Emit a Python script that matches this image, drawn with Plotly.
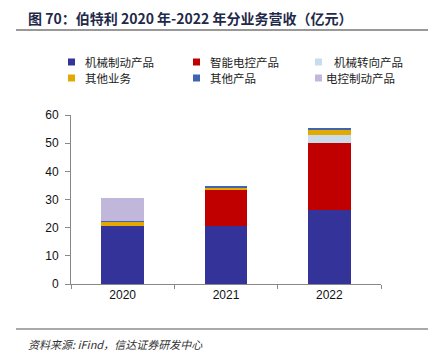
import plotly.graph_objects as go

years = ["2020", "2021", "2022"]
series_names = ["机械制动产品", "智能电控产品", "机械转向产品", "其他业务", "其他产品", "电控制动产品"]
mech_brake = [20.6, 20.6, 26.4]
smart_ctrl = [0.0, 13.1, 23.5]
mech_steer = [0.0, 0.0, 3.0]
other_biz = [1.5, 0.5, 1.8]
other_prod = [0.3, 0.5, 0.7]
elec_brake = [8.0, 0.0, 0.0]
series_values = [mech_brake, smart_ctrl, mech_steer, other_biz, other_prod, elec_brake]
colors = ["#333399", "#C00000", "#CADBEA", "#E2AA00", "#3E64B2", "#C0B7DA"]
y_ticks = [0, 10, 20, 30, 40, 50, 60]

W, H = 442, 357
L, R, T, B = 71, 61, 115, 73
pw = W - L - R
ph = H - T - B

def px(x):
    return (x - L) / pw

def py(y):
    return (H - B - y) / ph

fig = go.Figure()
for name, vals, col in zip(series_names, series_values, colors):
    fig.add_trace(go.Bar(x=years, y=vals, name=name, showlegend=False,
                         marker=dict(color=col, line=dict(width=0))))

cjk = "Noto Sans CJK SC"
fig.update_layout(
    width=W, height=H,
    barmode="stack", bargap=0.59,
    paper_bgcolor="white", plot_bgcolor="white",
    margin=dict(l=L, r=R, t=T, b=B, autoexpand=False),
    showlegend=False,
    xaxis=dict(type="category", showline=True, linecolor="#888", linewidth=1,
               ticks="outside", tickson="boundaries", ticklen=4, tickcolor="#888",
               tickfont=dict(family="Liberation Sans, Arial", size=12, color="#111"),
               showgrid=False),
    yaxis=dict(range=[0, 60], tickvals=y_ticks, showline=True, linecolor="#888", linewidth=1,
               ticks="outside", ticklen=5, tickcolor="#888", showgrid=False, zeroline=False,
               tickfont=dict(family="Liberation Sans, Arial", size=12, color="#111"),
               ticklabelstandoff=4),
)

shapes = [
    dict(type="line", xref="paper", yref="paper", x0=px(16), x1=px(428), y0=py(30), y1=py(30),
         line=dict(color="#777", width=1.5)),
    dict(type="line", xref="paper", yref="paper", x0=px(16), x1=px(428), y0=py(329), y1=py(329),
         line=dict(color="#555", width=1.2)),
]

# Custom legend: 3 columns x 2 rows
marker_x = [68, 193, 315]
text_x = [83, 208, 332]
row_y = [62, 78]
for i, (name, col) in enumerate(zip(series_names, colors)):
    r, c = divmod(i, 3)
    mx = marker_x[c]
    tx = text_x[c] if not (r == 1 and c == 2) else 324
    cy = row_y[r]
    shapes.append(dict(type="rect", xref="paper", yref="paper",
                       x0=px(mx), x1=px(mx + 7), y0=py(cy + 3.5), y1=py(cy - 3.5),
                       fillcolor=col, line=dict(width=0)))
    fig.add_annotation(xref="paper", yref="paper", x=px(tx), y=py(cy), xanchor="left",
                       yanchor="middle", text=name, showarrow=False,
                       font=dict(family=cjk, size=11.5, color="#222"))

fig.update_layout(shapes=shapes)

fig.add_annotation(xref="paper", yref="paper", x=px(26), y=py(18), xanchor="left", yanchor="middle",
                   text="<b>图 70：伯特利 2020 年-2022 年分业务营收（亿元）</b>", showarrow=False,
                   font=dict(family=cjk, size=14, color="#1F2A4A"))
fig.add_annotation(xref="paper", yref="paper", x=px(26), y=py(344), xanchor="left", yanchor="middle",
                   text="<i>资料来源: iFind，信达证券研发中心</i>", showarrow=False,
                   font=dict(family=cjk, size=11, color="#333"))

fig.write_html("out.html", config={"displayModeBar": False},
               post_script="document.body.style.margin='0';document.body.style.padding='0';")
